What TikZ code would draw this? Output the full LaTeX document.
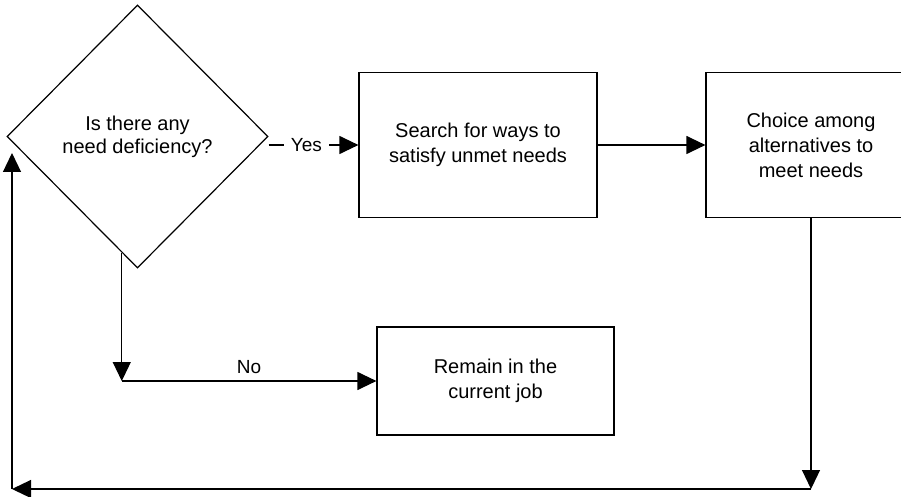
\documentclass[tikz,border=0pt]{standalone}
\usepackage{fontspec}
\setmainfont{Liberation Sans}
\usetikzlibrary{shapes.geometric,arrows.meta,calc}
\begin{document}
\begin{tikzpicture}[x=1pt,y=-1pt,
    box/.style={draw,line width=1.2pt,align=center,font=\fontsize{20}{25}\selectfont},
    decision/.style={draw,diamond,line width=1.2pt,align=center,inner sep=0pt,
      minimum width=261pt,minimum height=263pt,font=\fontsize{20}{23}\selectfont},
    lbl/.style={font=\fontsize{19}{23}\selectfont},
    arr/.style={line width=1.2pt,-{Triangle[length=19pt,width=18pt]}}]
  \useasboundingbox (0,0) rectangle (901,497);
  \draw
    (137.5,136.5) node[decision] (q){Is there any\\need deficiency?}
    (478,145) node[box,minimum width=238pt,minimum height=145pt] (search){Search for ways to\\satisfy unmet needs}
    (811,145) node[box,minimum width=210pt,minimum height=145pt] (choice){Choice among\\alternatives to\\meet needs}
    (495.5,381) node[box,minimum width=237pt,minimum height=108pt] (remain){Remain in the\\current job};
  \coordinate (qd) at ($(q.west)!0.88!(q.south)$);
  \coordinate (bl) at (12,489);
  \coordinate (back) at (12,153);
  \begin{scope}[arr]
    \draw (search.west -| q.east) -- node[lbl,fill=white,inner xsep=7pt,pos=0.42]{Yes} (search.west);
    \draw (search.east) -- (choice.west);
    \draw (qd) -- (qd |- remain.west) coordinate (nocorner);
    \draw (nocorner) -- node[lbl,above=3pt]{No} (remain.west);
    \draw (choice.south) -- (choice.south |- bl) coordinate (br);
    \draw (br) -- (bl);
    \draw (bl) -- (back);
  \end{scope}
\end{tikzpicture}
\end{document}
